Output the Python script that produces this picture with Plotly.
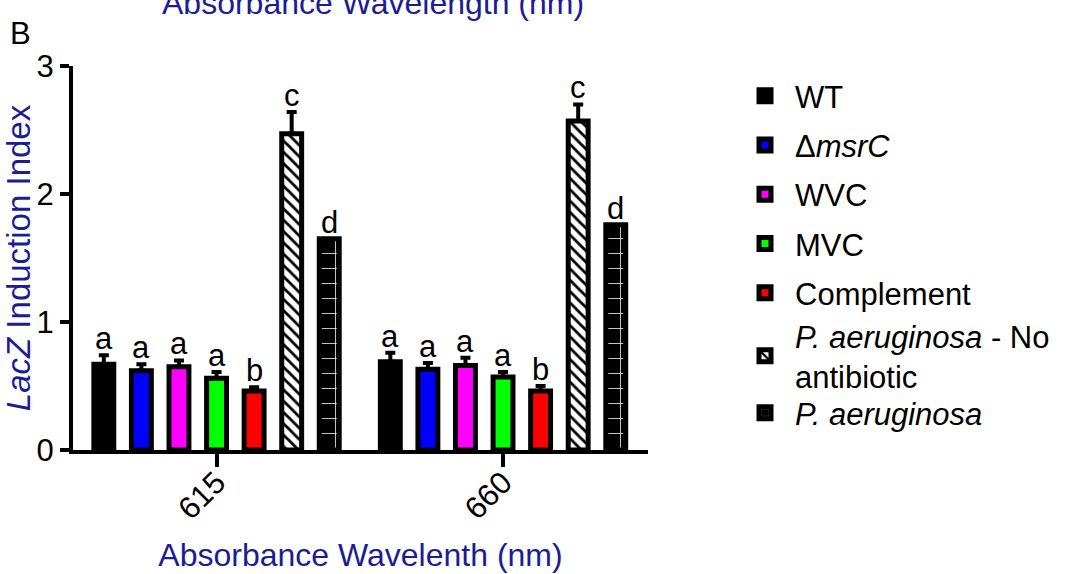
import plotly.graph_objects as go

categories = ["615", "660"]
series_names = ["WT", "Δ<i>msrC</i>", "WVC", "MVC", "Complement",
                "<i>P. aeruginosa</i> - No<br>antibiotic", "<i>P. aeruginosa</i>"]
means = [
    [0.67, 0.69],   # WT
    [0.62, 0.63],   # dmsrC
    [0.65, 0.66],   # WVC
    [0.56, 0.57],   # MVC
    [0.46, 0.46],   # Complement
    [2.47, 2.57],   # P. aeruginosa - no antibiotic
    [1.65, 1.76],   # P. aeruginosa
]
errors = [
    [0.07, 0.07],
    [0.05, 0.05],
    [0.05, 0.06],
    [0.05, 0.04],
    [0.03, 0.04],
    [0.17, 0.13],
    [0.0, 0.0],
]
letters = [
    ["a", "a"], ["a", "a"], ["a", "a"], ["a", "a"],
    ["b", "b"], ["c", "c"], ["d", "d"],
]
fill_colors = ["#000000", "#0000FF", "#FF00FF", "#00FF00", "#FF0000", "#FFFFFF", "#000000"]
legend_ids = ["legend", "legend", "legend", "legend", "legend", "legend2", "legend3"]

FONT = "Arial, Liberation Sans, sans-serif"
NAVY = "#1c1c96"

W, H = 1069, 574
ML, MR, MT, MB = 73, 421, 66, 124
XR = [-0.501, 1.506]
BARGAP = 0.082
BARGROUPGAP = 0.47

fig = go.Figure()
for i, name in enumerate(series_names):
    marker = dict(color=fill_colors[i], line=dict(color="black", width=5))
    if i == 5:
        marker["pattern"] = dict(shape="\\", fgcolor="black", bgcolor="white",
                                 size=8, solidity=0.35, fillmode="replace")
    if i == 6:
        marker["pattern"] = dict(shape="+", fgcolor="white", bgcolor="black",
                                 size=15, solidity=0.1, fillmode="replace")
    fig.add_trace(go.Bar(
        x=categories, y=means[i], name=name, marker=marker,
        legendgroup=str(i), legend=legend_ids[i],
        error_y=dict(type="data", symmetric=False, array=errors[i],
                     arrayminus=[0] * len(categories),
                     color="black", thickness=4, width=5,
                     visible=any(e > 0 for e in errors[i])),
    ))

# significance letters above each bar (category index positions)
plot_w = W - ML - MR
px_per_cat = plot_w / (XR[1] - XR[0])
pitch = px_per_cat * (1 - BARGAP) / len(series_names)
for i in range(len(series_names)):
    for j in range(len(categories)):
        fig.add_annotation(
            x=j, y=means[i][j] + errors[i][j], text=letters[i][j],
            xref="x", yref="y", showarrow=False, yanchor="bottom",
            xshift=(i - (len(series_names) - 1) / 2) * pitch, yshift=-3,
            font=dict(family=FONT, size=31, color="black"))

# panel label and clipped top title
fig.add_annotation(text="B", xref="paper", yref="paper", x=(8 - ML) / plot_w, y=1,
                   xanchor="left", yanchor="bottom", yshift=MT - 53, showarrow=False,
                   font=dict(family=FONT, size=31, color="black"))
fig.add_annotation(text="Absorbance Wavelength (nm)", xref="paper", yref="paper",
                   x=(373 - ML) / plot_w, y=1, xanchor="center", yanchor="bottom",
                   yshift=MT - 23, showarrow=False,
                   font=dict(family=FONT, size=32, color=NAVY))

legend_common = dict(xref="container", yref="container", xanchor="left", yanchor="top",
                     tracegroupgap=6, maxheight=560, itemwidth=50,
                     font=dict(family=FONT, size=31, color="black"),
                     bgcolor="rgba(0,0,0,0)")

fig.update_layout(
    width=W, height=H,
    margin=dict(l=ML, r=MR, t=MT, b=MB, autoexpand=False),
    paper_bgcolor="white", plot_bgcolor="white",
    barmode="group", bargap=BARGAP, bargroupgap=BARGROUPGAP,
    font=dict(family=FONT, size=31, color="black"),
    showlegend=True,
    legend=dict(x=735 / W, y=1 - 69 / H, **legend_common),
    legend2=dict(x=735 / W, y=1 - 309 / H, **legend_common),
    legend3=dict(x=735 / W, y=1 - 386 / H, **legend_common),
    xaxis=dict(type="category", range=XR, showgrid=False, zeroline=False,
               showline=True, linecolor="black", linewidth=4,
               ticks="outside", ticklen=13, tickwidth=4, tickcolor="black",
               tickangle=-45, tickfont=dict(family=FONT, size=31),
               ticklabelstandoff=-15,
               title=dict(text="Absorbance Wavelenth (nm)", standoff=19,
                          font=dict(family=FONT, size=32, color=NAVY))),
    yaxis=dict(range=[0, 3], tickvals=[0, 1, 2, 3], showgrid=False, zeroline=False,
               showline=True, linecolor="black", linewidth=4,
               ticks="outside", ticklen=9, tickwidth=4, tickcolor="black",
               tickfont=dict(family=FONT, size=31),
               title=dict(text="<i>LacZ</i> Induction Index", standoff=6,
                          font=dict(family=FONT, size=33, color=NAVY))),
)

fig.write_html("out.html")
